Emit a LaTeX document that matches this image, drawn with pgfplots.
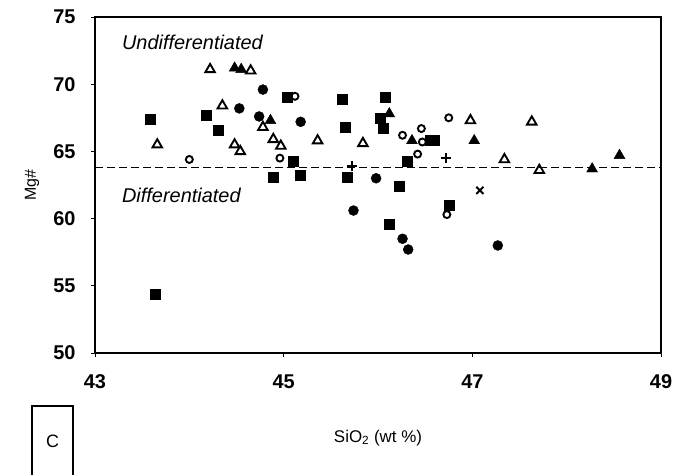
\documentclass[border=0pt]{standalone}
\usepackage{pgfplots}
\pgfplotsset{compat=1.18}
\usepackage{fontspec}
\setmainfont{Liberation Sans}
\begin{document}
\begin{tikzpicture}
\useasboundingbox (-95bp,-122bp) rectangle (582bp,353bp);
\begin{axis}[
  at={(0,0)}, anchor=south west,
  width=566bp, height=336bp, scale only axis,
  xmin=43, xmax=49, ymin=50, ymax=75,
  xtick={43,45,47,49}, ytick={50,55,60,65,70,75},
  tick align=outside, xtick pos=bottom, ytick pos=left,
  axis line style={line width=2pt},
  major tick length=4bp,
  tick style={line width=0.8pt, black},
  ticklabel style={font=\fontsize{20}{24}\selectfont\bfseries},
  /pgf/number format/assume math mode=true,
  xticklabel style={yshift=-14bp},
  yticklabel style={xshift=-12bp},
  xlabel={SiO\textsubscript{2} (wt \%)},
  xlabel style={at={(axis description cs:0.5,0)}, anchor=center, yshift=-85bp, font=\fontsize{17}{20}\selectfont},
  ylabel={Mg\#},
  ylabel style={at={(axis description cs:-0.1113,0.5)}, anchor=center, font=\fontsize{16}{19}\selectfont},
  clip=false,
  only marks,
]
% dashed boundary
\addplot[sharp plot, mark=none, line width=1.9pt, dash pattern=on 8bp off 4bp] coordinates {(43,63.8) (49,63.8)};
% filled squares
\addplot[mark=square*, mark size=5bp, black] coordinates {
(43.59,67.4) (44.18,67.7) (44.31,66.6) (44.89,63.1) (45.04,69.0) (45.10,64.3)
(45.18,63.2) (45.62,68.9) (45.65,66.8) (45.67,63.1) (46.02,67.5) (46.05,66.7)
(46.08,69.0) (46.12,59.6) (46.23,62.4) (46.31,64.3) (46.55,65.8) (46.60,65.8)
(46.75,61.0) (43.64,54.4)};
% filled circles
\addplot[mark=*, mark size=5bp, black] coordinates {
(44.53,68.2) (44.78,69.6) (44.74,67.6) (45.18,67.2) (45.98,63.0) (45.74,60.6)
(46.26,58.5) (46.32,57.7) (47.27,58.0)};
% open circles
\addplot[mark=o, mark size=3.5bp, black, mark options={line width=1.9pt}] coordinates {
(44.0,64.4) (44.96,64.5) (45.12,69.1) (46.26,66.2) (46.46,66.7) (46.47,65.7)
(46.42,64.8) (46.75,67.5) (46.73,60.3)};
% open triangles
\addplot[mark=triangle, mark size=5.5bp, black, mark options={line width=1.9pt}] coordinates {
(43.66,65.5) (44.22,71.1) (44.65,71.0) (44.35,68.4) (44.48,65.5) (44.54,65.0)
(44.78,66.8) (44.89,65.9) (44.97,65.4) (45.36,65.8) (45.84,65.6) (46.98,67.3)
(47.63,67.2) (47.34,64.4) (47.71,63.6)};
% filled triangles
\addplot[mark=triangle*, mark size=6.3bp, black] coordinates {
(44.48,71.2) (44.55,71.1) (44.86,67.3) (46.12,67.8) (46.36,65.8) (47.02,65.8)
(48.27,63.7) (48.56,64.7)};
% plus
\addplot[mark=+, mark size=5bp, black, mark options={line width=1.9pt}] coordinates {
(45.72,63.9) (46.72,64.5)};
% cross
\addplot[mark=x, mark size=5bp, black, mark options={line width=2.1pt}] coordinates {
(47.08,62.1)};
\node[anchor=west, font=\fontsize{20}{24}\selectfont\itshape] at (axis cs:43.25,73.1) {Undifferentiated};
\node[anchor=west, font=\fontsize{20}{24}\selectfont\itshape] at (axis cs:43.25,61.7) {Differentiated};
\end{axis}
\draw[line width=1.6pt] (-63bp,-125bp) -- (-63bp,-53bp) -- (-22bp,-53bp) -- (-22bp,-125bp);
\node[font=\fontsize{18}{21}\selectfont] at (-42.5bp,-88bp) {C};
\end{tikzpicture}
\end{document}
